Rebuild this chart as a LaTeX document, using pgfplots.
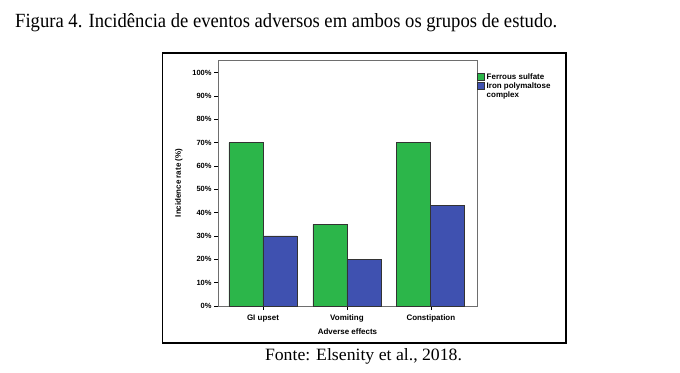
\documentclass[border=0pt]{standalone}
\usepackage{pgfplots}
\pgfplotsset{compat=1.18}
\usepackage{fontspec}
\setmainfont{Liberation Serif}
\setsansfont{Liberation Sans}
\usepackage{graphicx}
\definecolor{barG}{RGB}{44,182,74}
\definecolor{barB}{RGB}{63,81,176}
\definecolor{axgray}{RGB}{110,110,110}
\begin{document}
\begin{tikzpicture}[x=1bp,y=1bp]
\path[use as bounding box] (0,0) rectangle (680,372);
\draw[black, line width=1.2bp] (162.5,29) rectangle (566,319);
\node[anchor=base west, inner sep=0] at (15,345) {\resizebox{542bp}{14bp}{\fontsize{16}{18}\selectfont Figura 4. Incidência de eventos adversos em ambos os grupos de estudo.}};
\node[anchor=base, inner sep=0] at (363.5,12) {\resizebox{197bp}{12bp}{\fontsize{14}{16}\selectfont Fonte: Elsenity et al., 2018.}};
\begin{axis}[
  at={(218bp,66bp)}, anchor=south west,
  width=259bp, height=246bp, scale only axis,
  xmin=-0.536, xmax=2.55, ymin=0, ymax=105.4,
  ybar=0pt, bar width=34bp,
  xtick={0,1,2}, xticklabels={GI upset,Vomiting,Constipation},
  ytick={0,10,...,100},
  yticklabels={0\%,10\%,20\%,30\%,40\%,50\%,60\%,70\%,80\%,90\%,100\%},
  tick align=outside, tick pos=left, major tick length=4bp,
  axis line style={axgray, line width=0.9bp},
  every tick/.style={black, line width=0.7bp},
  tick label style={font=\sffamily\bfseries\fontsize{7.5}{8}\selectfont, black},
  xticklabel style={yshift=-1bp, font=\sffamily\bfseries\fontsize{8}{9}\selectfont},
  yticklabel style={xshift=1bp},
  xlabel={Adverse effects},
  ylabel={Incidence rate (\%)},
  label style={font=\sffamily\bfseries\fontsize{8}{9}\selectfont},
  xlabel style={yshift=0bp},
  ylabel style={yshift=3bp},
  legend style={at={(1,0.955)}, anchor=north west, draw=none, fill=none,
    inner sep=0pt, row sep=-2bp,
    font=\sffamily\bfseries\fontsize{8}{8.5}\selectfont,
    cells={anchor=west}},
  legend image code/.code={\draw[#1, line width=0.5bp] (0bp,-3.5bp) rectangle (7bp,3.5bp);},
]
\addplot[fill=barG, draw=black!80, line width=0.8bp] coordinates {(0,70) (1,35) (2,70)};
\addplot[fill=barB, draw=black!80, line width=0.8bp] coordinates {(0,30) (1,20) (2,43)};
\legend{Ferrous sulfate, Iron polymaltose}
\addlegendimage{empty legend}
\addlegendentry{complex}
\end{axis}
\end{tikzpicture}
\end{document}
